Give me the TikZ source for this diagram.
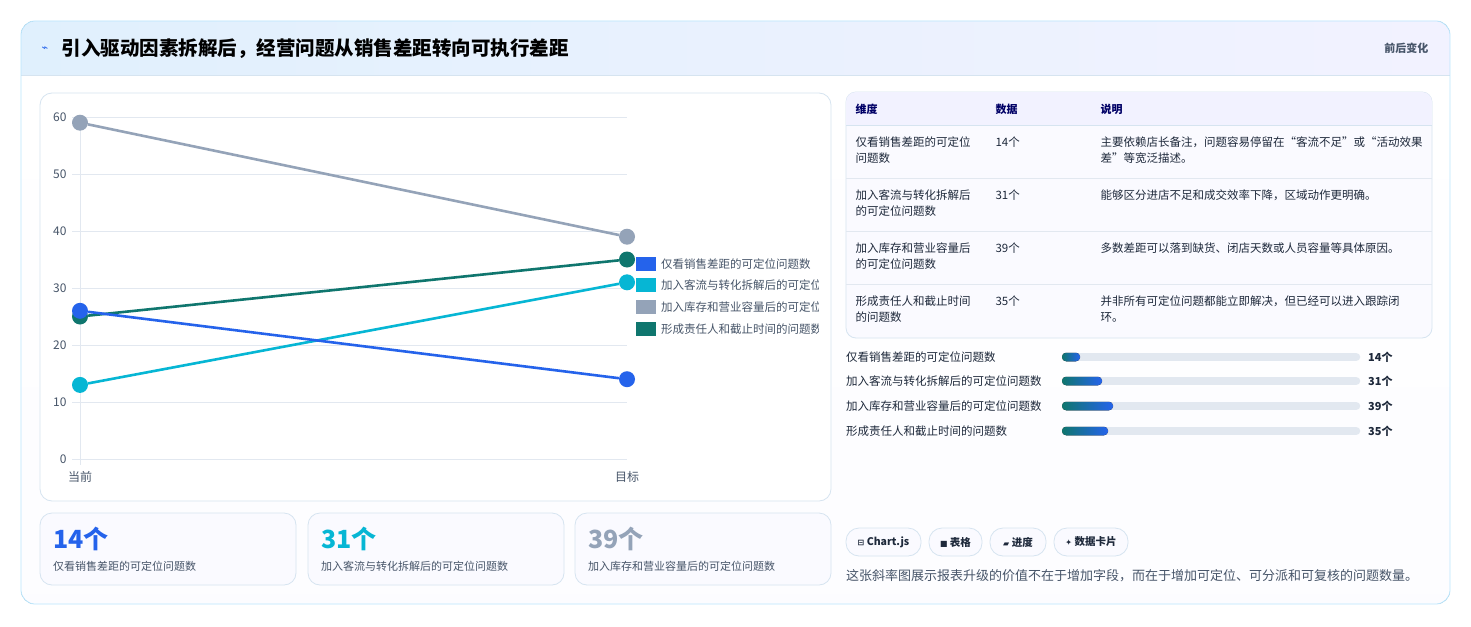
\documentclass[tikz,border=0pt]{standalone}
\usepackage{fontspec}
\setmainfont{Noto Sans CJK SC}
\newfontfamily\dv{DejaVu Sans}
\definecolor{cblue}{HTML}{2563EB}
\definecolor{ccyan}{HTML}{06B6D4}
\definecolor{cgray}{HTML}{94A3B8}
\definecolor{cteal}{HTML}{0F766E}
\definecolor{bord}{HTML}{BAE6FD}
\definecolor{grid}{HTML}{E2E8F0}
\definecolor{cb}{HTML}{D6E4F0}
\definecolor{txt}{HTML}{1E293B}
\definecolor{mut}{HTML}{475569}
\definecolor{hd}{HTML}{E0F0FD}
\begin{document}
\begin{tikzpicture}[x=1pt,y=-1pt,
 lbl/.style={anchor=west,font=\fontsize{11.5}{13}\selectfont,text=txt},
 tk/.style={anchor=east,font=\fontsize{12}{14}\selectfont,text=mut},
 pt/.style={circle,fill=#1,minimum size=16pt,inner sep=0pt},
 ln/.style={line width=2.6pt,draw=#1},
 chip/.style={draw=cb,fill=blue!2!white,rounded corners=13pt,line width=0.8pt},
 chipt/.style={font=\fontsize{10.5}{12}\selectfont\bfseries,text=txt,inner sep=0pt},
 cell/.style={anchor=north west,font=\fontsize{11.5}{16.5}\selectfont,text=txt,align=left},
 bar/.style={line width=8.5pt,line cap=round}]
\useasboundingbox (0,0) rectangle (1471,626);
\fill[white] (0,0) rectangle (1471,626);
\begin{scope}
\clip[rounded corners=14pt] (21,21) rectangle (1450,604);
\fill[white] (21,21) rectangle (1450,604);
\fill[bottom color=blue!1!white,top color=white] (21,75) rectangle (1450,604);
\fill[left color=hd,right color=blue!5!white] (21,21) rectangle (1450,75);
\draw[cb] (21,75) -- (1450,75);
\end{scope}
\draw[bord,rounded corners=14pt,line width=0.8pt] (21,21) rectangle (1450,604);
\node[anchor=west,text=cblue,font=\dv\fontsize{11}{12}\selectfont] (ic) at (38,49) {⌁};
\node[anchor=west,font=\fontsize{19.5}{22}\selectfont\bfseries,text=black] (title) at (58,49) {引入驱动因素拆解后，经营问题从销售差距转向可执行差距};
\node[anchor=east,font=\fontsize{11}{13}\selectfont\bfseries,text=mut] (tag) at (1432,48) {前后变化};
% chart card
\draw[cb,fill=white,rounded corners=12pt,line width=0.8pt] (40,93) rectangle (831,501);
\foreach \v in {0,10,20,30,40,50,60}{
  \draw[grid] (72,459-5.7*\v) -- (627,459-5.7*\v);
  \node[tk] (t\v) at (70,459-5.7*\v) {\v};
}
\draw[grid] (80,117) -- (80,465);
\node[font=\fontsize{12}{14}\selectfont,text=mut] (xa) at (80,477) {当前};
\node[font=\fontsize{12}{14}\selectfont,text=mut] (xb) at (627,477) {目标};
\node[pt=cgray] (g1) at (80,122.7) {}; \node[pt=cgray] (g2) at (627,236.7) {};
\node[pt=cteal] (e1) at (80,316.5) {}; \node[pt=cteal] (e2) at (627,259.5) {};
\node[pt=ccyan] (c1) at (80,384.9) {}; \node[pt=ccyan] (c2) at (627,282.3) {};
\node[pt=cblue] (b1) at (80,310.8) {}; \node[pt=cblue] (b2) at (627,379.2) {};
\draw[ln=cgray] (g1) -- (g2);
\draw[ln=cteal] (e1) -- (e2);
\draw[ln=ccyan] (c1) -- (c2);
\draw[ln=cblue] (b1) -- (b2);
\begin{scope}
\clip (630,250) rectangle (818,340);
\foreach \c/\y/\t in {cblue/264/仅看销售差距的可定位问题数,ccyan/285/加入客流与转化拆解后的可定位问题数,cgray/307/加入库存和营业容量后的可定位问题数,cteal/329/形成责任人和截止时间的问题数}{
  \fill[\c] (636,\y-7) rectangle (656,\y+7);
  \node[anchor=west,font=\fontsize{11.5}{13}\selectfont,text=mut,inner sep=0pt] at (661,\y) {\t};
}
\end{scope}
% table
\draw[cb,fill=blue!2!white,rounded corners=10pt,line width=0.8pt] (846,92) rectangle (1432,338);
\begin{scope}
\clip[rounded corners=10pt] (846,92) rectangle (1432,338);
\fill[blue!5!white] (846,92) rectangle (1432,125);
\end{scope}
\draw[cb] (846,125) -- (1432,125);
\foreach \y in {178,231,284} \draw[grid] (846,\y) -- (1432,\y);
\node[anchor=west,font=\fontsize{11}{13}\selectfont\bfseries,text=blue!40!black] (h1) at (852,109) {维度};
\node[anchor=west,font=\fontsize{11}{13}\selectfont\bfseries,text=blue!40!black] (h2) at (992,109) {数据};
\node[anchor=west,font=\fontsize{11}{13}\selectfont\bfseries,text=blue!40!black] (h3) at (1097,109) {说明};
\foreach \y/\a/\b/\c in {133/{仅看销售差距的可定位\\问题数}/14个/{主要依赖店长备注，问题容易停留在“客流不足”或“活动效果\\差”等宽泛描述。},186/{加入客流与转化拆解后\\的可定位问题数}/31个/{能够区分进店不足和成交效率下降，区域动作更明确。},239/{加入库存和营业容量后\\的可定位问题数}/39个/{多数差距可以落到缺货、闭店天数或人员容量等具体原因。},292/{形成责任人和截止时间\\的问题数}/35个/{并非所有可定位问题都能立即解决，但已经可以进入跟踪闭\\环。}}{
  \node[cell] at (852,\y) {\a};
  \node[cell] at (992,\y) {\b};
  \node[cell] at (1097,\y) {\c};
}
% bars
\foreach \y/\t/\e/\v in {357/仅看销售差距的可定位问题数/1076/14个,381/加入客流与转化拆解后的可定位问题数/1098/31个,406/加入库存和营业容量后的可定位问题数/1109/39个,431/形成责任人和截止时间的问题数/1104/35个}{
  \node[lbl,inner sep=0pt] at (846,\y) {\t};
  \draw[bar,grid] (1066,\y) -- (1356,\y);
  \fill[left color=cteal,right color=cblue,rounded corners=4pt] (1062,\y-4.25) rectangle (\e+4,\y+4.25);
  \node[anchor=west,inner sep=0pt,font=\fontsize{11}{13}\selectfont\bfseries,text=txt] at (1368,\y) {\v};
}
% kpi cards
\foreach \x/\c/\n/\t in {40/cblue/14个/仅看销售差距的可定位问题数,308/ccyan/31个/加入客流与转化拆解后的可定位问题数,575/cgray/39个/加入库存和营业容量后的可定位问题数}{
  \draw[cb,fill=blue!2!white,rounded corners=12pt,line width=0.8pt] (\x,513) rectangle (\x+256,585);
  \node[anchor=west,inner sep=0pt,text=\c,font=\fontsize{25}{28}\selectfont\bfseries] at (\x+13,539) {\n};
  \node[anchor=west,inner sep=0pt,text=mut,font=\fontsize{11}{13}\selectfont] at (\x+13,566) {\t};
}
% chips
\draw[chip] (846,528) rectangle (921,556);
\draw[chip] (929,528) rectangle (982,556);
\draw[chip] (990,528) rectangle (1046,556);
\draw[chip] (1054,528) rectangle (1128,556);
\node[chipt] (k1) at (883.5,542) {{\dv\fontsize{8}{10}\selectfont ⊟} Chart.js};
\node[chipt] (k2) at (955.5,542) {{\dv\fontsize{8}{10}\selectfont ■} 表格};
\node[chipt] (k3) at (1018,542) {{\dv\fontsize{8}{10}\selectfont ▰} 进度};
\node[chipt] (k4) at (1091,542) {{\dv\fontsize{8}{10}\selectfont ✦} 数据卡片};
\node[anchor=west,inner sep=0pt,text=mut,font=\fontsize{13}{14}\selectfont] (foot) at (846,576) {这张斜率图展示报表升级的价值不在于增加字段，而在于增加可定位、可分派和可复核的问题数量。};
\end{tikzpicture}
\end{document}
